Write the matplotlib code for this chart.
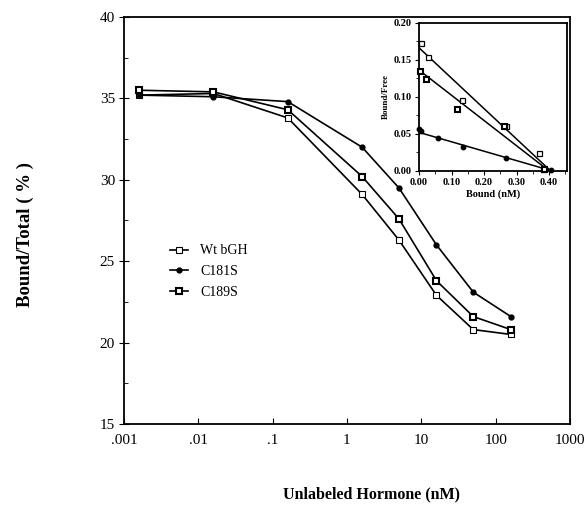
import matplotlib.pyplot as plt
import matplotlib.ticker as mticker

# competition binding data
hormone_nM = [0.0016, 0.016, 0.16, 1.6, 5, 16, 50, 160]
wt_bgh = [35.2, 35.3, 33.8, 29.1, 26.3, 22.9, 20.8, 20.5]
c181s = [35.2, 35.1, 34.8, 32.0, 29.5, 26.0, 23.1, 21.6]
c189s = [35.5, 35.4, 34.3, 30.2, 27.6, 23.8, 21.6, 20.8]

# scatchard inset data
wt_bound = [0.007, 0.028, 0.131, 0.269, 0.369, 0.38]
wt_bf = [0.172, 0.153, 0.095, 0.060, 0.024, 0.003]
c189_bound = [0.002, 0.02, 0.118, 0.26, 0.383]
c189_bf = [0.135, 0.124, 0.083, 0.060, 0.003]
c181_bound = [0.0, 0.007, 0.057, 0.135, 0.266, 0.407]
c181_bf = [0.056, 0.054, 0.0446, 0.0325, 0.018, 0.001]

# fitted scatchard lines: y-intercept and x-intercept
fit_yint = [0.166, 0.136, 0.052]
fit_xint = [0.405, 0.40, 0.41]

serif = ["Liberation Serif", "DejaVu Serif"]
plt.rcParams["font.family"] = serif

fig = plt.figure(figsize=(5.87, 5.13), dpi=100)
ax = fig.add_axes([0.2112, 0.1735, 0.7598, 0.7934])

ax.plot(hormone_nM, wt_bgh, color="black", lw=1.2, marker="s", ms=3.8,
        mfc="white", mec="black", mew=0.8, label="Wt bGH", zorder=3)
ax.plot(hormone_nM, c181s, color="black", lw=1.2, marker="o", ms=3.5,
        mfc="black", mec="black", label="C181S", zorder=3)
ax.plot(hormone_nM, c189s, color="black", lw=1.2, marker="s", ms=3.8,
        mfc="white", mec="black", mew=1.5, label="C189S", zorder=3)

ax.set_xscale("log")
ax.set_xlim(0.001, 1000)
ax.set_ylim(15, 40)
ax.set_xticks([0.001, 0.01, 0.1, 1, 10, 100, 1000])
ax.set_xticklabels([".001", ".01", ".1", "1", "10", "100", "1000"])
ax.xaxis.set_minor_locator(mticker.NullLocator())
ax.yaxis.set_major_locator(mticker.MultipleLocator(5))
ax.yaxis.set_minor_locator(mticker.MultipleLocator(2.5))
ax.tick_params(axis="x", which="major", direction="in", length=4, labelsize=11, pad=7)
ax.tick_params(axis="y", which="major", direction="inout", length=7, labelsize=11, pad=3)
ax.tick_params(axis="y", which="minor", direction="in", length=3)
for s in ax.spines.values():
    s.set_linewidth(1.3)

leg = ax.legend(loc="upper left", bbox_to_anchor=(0.075, 0.472), frameon=False,
                fontsize=10, handlelength=1.3, handletextpad=0.9, labelspacing=0.55)

fig.text(0.6325, 0.02, "Unlabeled Hormone (nM)", ha="center", va="bottom",
         fontsize=11.5, fontweight="bold")
fig.text(0.043, 0.543, "Bound/Total ( % )", ha="center", va="center", rotation=90,
         fontsize=13.5, fontweight="bold")

# inset scatchard plot
ins = fig.add_axes([0.7138, 0.6667, 0.2521, 0.2894])
ins.plot(wt_bound, wt_bf, ls="none", marker="s", ms=3.6, mfc="white", mec="black",
         mew=0.9, clip_on=False, zorder=3)
ins.plot(c189_bound, c189_bf, ls="none", marker="s", ms=3.6, mfc="white", mec="black",
         mew=1.5, clip_on=False, zorder=3)
ins.plot(c181_bound, c181_bf, ls="none", marker="o", ms=3.2, mfc="black", mec="black",
         clip_on=False, zorder=3)
for b, k in zip(fit_yint, fit_xint):
    ins.plot([0, k], [b, 0], color="black", lw=1.1)
ins.set_xlim(0, 0.455)
ins.set_ylim(0, 0.20)
ins.xaxis.set_major_locator(mticker.MultipleLocator(0.1))
ins.xaxis.set_minor_locator(mticker.MultipleLocator(0.05))
ins.yaxis.set_major_locator(mticker.MultipleLocator(0.05))
ins.yaxis.set_minor_locator(mticker.MultipleLocator(0.025))
ins.xaxis.set_major_formatter(mticker.FormatStrFormatter("%.2f"))
ins.yaxis.set_major_formatter(mticker.FormatStrFormatter("%.2f"))
ins.tick_params(which="major", direction="out", length=3, labelsize=7.5, pad=2)
ins.tick_params(which="minor", direction="out", length=2)
for lab in ins.get_xticklabels() + ins.get_yticklabels():
    lab.set_fontweight("bold")
ins.set_xlabel("Bound (nM)", fontsize=7.5, fontweight="bold", labelpad=2)
ins.set_ylabel("Bound/Free", fontsize=6.5, fontweight="bold", labelpad=3)
for s in ins.spines.values():
    s.set_linewidth(1.3)

fig.savefig("out.png", dpi=100)
